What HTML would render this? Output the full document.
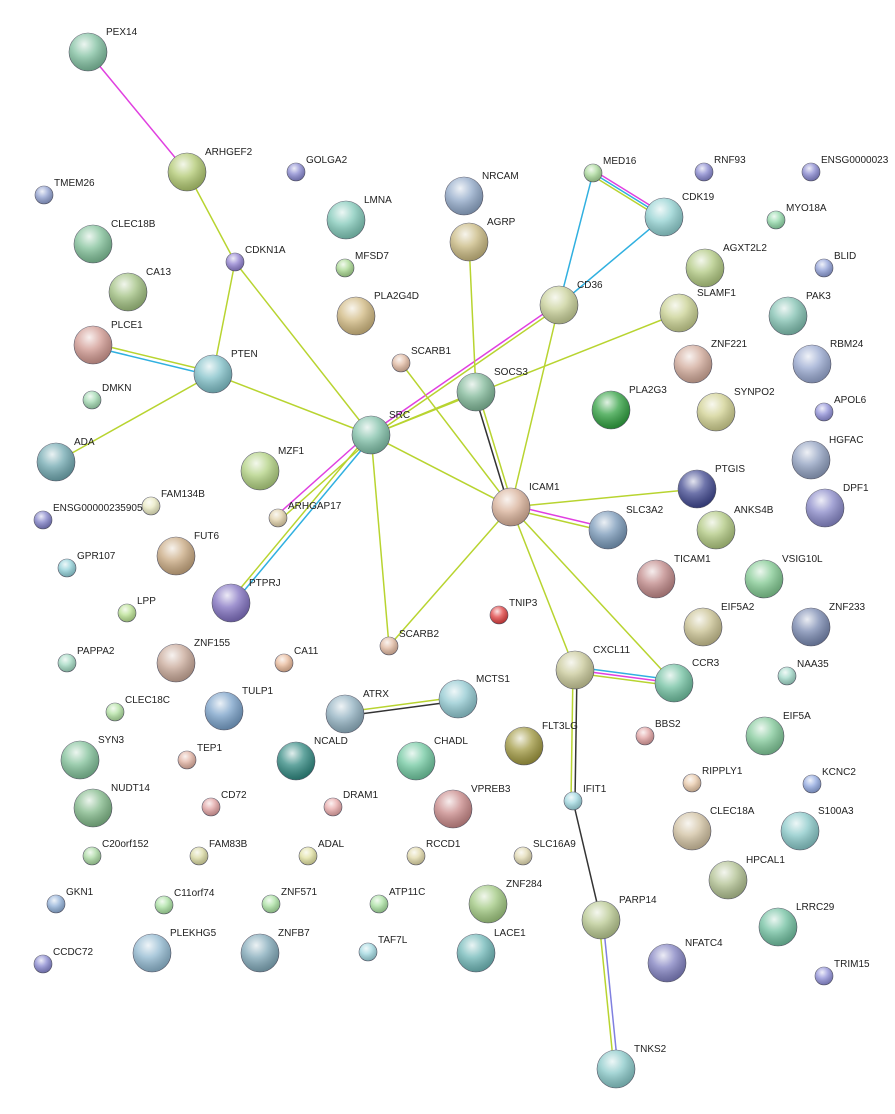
<!DOCTYPE html>
<html><head><meta charset="utf-8"><style>
html,body{margin:0;padding:0;background:#fff;}
svg{display:block;}
text{font-family:"Liberation Sans",sans-serif;font-size:10px;fill:#222;}
</style></head><body>
<svg width="895" height="1114" viewBox="0 0 895 1114" xmlns="http://www.w3.org/2000/svg">
<defs>
<radialGradient id="hl" cx="0.4" cy="0.3" r="0.7">
<stop offset="0" stop-color="#fff" stop-opacity="0.85"/>
<stop offset="0.45" stop-color="#fff" stop-opacity="0.25"/>
<stop offset="1" stop-color="#000" stop-opacity="0.2"/>
</radialGradient>
</defs>
<g stroke-width="1.5" fill="none">
<line x1="88" y1="52" x2="187" y2="172" stroke="#e040e0"/>
<line x1="187" y1="172" x2="235" y2="262" stroke="#b8d430"/>
<line x1="235" y1="262" x2="213" y2="374" stroke="#b8d430"/>
<line x1="235" y1="262" x2="371" y2="435" stroke="#b8d430"/>
<line x1="93" y1="343" x2="213" y2="372" stroke="#b8d430"/>
<line x1="93" y1="347" x2="213" y2="376" stroke="#30b0e0"/>
<line x1="213" y1="374" x2="371" y2="435" stroke="#b8d430"/>
<line x1="213" y1="374" x2="56" y2="462" stroke="#b8d430"/>
<line x1="371" y1="435" x2="476" y2="392" stroke="#b8d430"/>
<line x1="371" y1="433" x2="559" y2="303" stroke="#e040e0"/>
<line x1="371" y1="437" x2="559" y2="307" stroke="#b8d430"/>
<line x1="371" y1="435" x2="679" y2="313" stroke="#b8d430"/>
<line x1="371" y1="435" x2="511" y2="507" stroke="#b8d430"/>
<line x1="401" y1="363" x2="511" y2="507" stroke="#b8d430"/>
<line x1="371" y1="435" x2="389" y2="646" stroke="#b8d430"/>
<line x1="369" y1="433" x2="276" y2="516" stroke="#e040e0"/>
<line x1="373" y1="437" x2="280" y2="520" stroke="#b8d430"/>
<line x1="369" y1="434" x2="229" y2="602" stroke="#b8d430"/>
<line x1="373" y1="436" x2="233" y2="604" stroke="#30b0e0"/>
<line x1="474" y1="392" x2="509" y2="507" stroke="#333"/>
<line x1="478" y1="392" x2="513" y2="507" stroke="#b8d430"/>
<line x1="476" y1="392" x2="469" y2="242" stroke="#b8d430"/>
<line x1="559" y1="305" x2="511" y2="507" stroke="#b8d430"/>
<line x1="559" y1="305" x2="593" y2="173" stroke="#30b0e0"/>
<line x1="559" y1="305" x2="664" y2="217" stroke="#30b0e0"/>
<line x1="593" y1="170" x2="664" y2="214" stroke="#e040e0"/>
<line x1="593" y1="173" x2="664" y2="217" stroke="#30b0e0"/>
<line x1="593" y1="176" x2="664" y2="220" stroke="#b8d430"/>
<line x1="511" y1="507" x2="697" y2="489" stroke="#b8d430"/>
<line x1="511" y1="505" x2="608" y2="528" stroke="#e040e0"/>
<line x1="511" y1="509" x2="608" y2="532" stroke="#b8d430"/>
<line x1="511" y1="507" x2="389" y2="646" stroke="#b8d430"/>
<line x1="511" y1="507" x2="575" y2="670" stroke="#b8d430"/>
<line x1="511" y1="507" x2="674" y2="683" stroke="#b8d430"/>
<line x1="575" y1="667" x2="674" y2="680" stroke="#30b0e0"/>
<line x1="575" y1="670" x2="674" y2="683" stroke="#e040e0"/>
<line x1="575" y1="673" x2="674" y2="686" stroke="#b8d430"/>
<line x1="573" y1="670" x2="571" y2="801" stroke="#b8d430"/>
<line x1="577" y1="670" x2="575" y2="801" stroke="#333"/>
<line x1="573" y1="801" x2="601" y2="920" stroke="#333"/>
<line x1="599" y1="920" x2="614" y2="1069" stroke="#b8d430"/>
<line x1="603" y1="920" x2="618" y2="1069" stroke="#8080e0"/>
<line x1="345" y1="712" x2="458" y2="697" stroke="#b8d430"/>
<line x1="345" y1="716" x2="458" y2="701" stroke="#333"/>
</g>
<g stroke="#556" stroke-width="0.6">
<circle cx="88" cy="52" r="19" fill="#80c0a0"/>
<circle cx="187" cy="172" r="19" fill="#b0c870"/>
<circle cx="346" cy="220" r="19" fill="#80c8b8"/>
<circle cx="464" cy="196" r="19" fill="#90a8c8"/>
<circle cx="469" cy="242" r="19" fill="#c8b880"/>
<circle cx="664" cy="217" r="19" fill="#90d0d0"/>
<circle cx="93" cy="244" r="19" fill="#80c098"/>
<circle cx="128" cy="292" r="19" fill="#a0c080"/>
<circle cx="559" cy="305" r="19" fill="#c8d098"/>
<circle cx="679" cy="313" r="19" fill="#c8d090"/>
<circle cx="788" cy="316" r="19" fill="#80c0b0"/>
<circle cx="705" cy="268" r="19" fill="#b0c880"/>
<circle cx="93" cy="345" r="19" fill="#d09890"/>
<circle cx="213" cy="374" r="19" fill="#80c0c8"/>
<circle cx="356" cy="316" r="19" fill="#d0b880"/>
<circle cx="693" cy="364" r="19" fill="#d0a898"/>
<circle cx="812" cy="364" r="19" fill="#98a8d0"/>
<circle cx="476" cy="392" r="19" fill="#80b898"/>
<circle cx="371" cy="435" r="19" fill="#80c0a8"/>
<circle cx="611" cy="410" r="19" fill="#30a040"/>
<circle cx="716" cy="412" r="19" fill="#d0d090"/>
<circle cx="56" cy="462" r="19" fill="#70a8b0"/>
<circle cx="260" cy="471" r="19" fill="#b0d080"/>
<circle cx="811" cy="460" r="19" fill="#90a0c0"/>
<circle cx="697" cy="489" r="19" fill="#404890"/>
<circle cx="825" cy="508" r="19" fill="#8888c8"/>
<circle cx="511" cy="507" r="19" fill="#d8b098"/>
<circle cx="608" cy="530" r="19" fill="#7898b8"/>
<circle cx="716" cy="530" r="19" fill="#b0c880"/>
<circle cx="176" cy="556" r="19" fill="#c8a880"/>
<circle cx="656" cy="579" r="19" fill="#c08888"/>
<circle cx="764" cy="579" r="19" fill="#80c890"/>
<circle cx="231" cy="603" r="19" fill="#8070c0"/>
<circle cx="703" cy="627" r="19" fill="#c8c090"/>
<circle cx="811" cy="627" r="19" fill="#7888b0"/>
<circle cx="176" cy="663" r="19" fill="#c8a898"/>
<circle cx="575" cy="670" r="19" fill="#c8c898"/>
<circle cx="674" cy="683" r="19" fill="#70c0a0"/>
<circle cx="224" cy="711" r="19" fill="#78a0c8"/>
<circle cx="345" cy="714" r="19" fill="#90b0c0"/>
<circle cx="458" cy="699" r="19" fill="#90c8d0"/>
<circle cx="524" cy="746" r="19" fill="#a09840"/>
<circle cx="765" cy="736" r="19" fill="#80c898"/>
<circle cx="80" cy="760" r="19" fill="#80c098"/>
<circle cx="296" cy="761" r="19" fill="#308880"/>
<circle cx="416" cy="761" r="19" fill="#70c8a0"/>
<circle cx="453" cy="809" r="19" fill="#c88888"/>
<circle cx="93" cy="808" r="19" fill="#80b888"/>
<circle cx="692" cy="831" r="19" fill="#d0c0a0"/>
<circle cx="800" cy="831" r="19" fill="#88c8c8"/>
<circle cx="728" cy="880" r="19" fill="#b0c090"/>
<circle cx="488" cy="904" r="19" fill="#a0c880"/>
<circle cx="601" cy="920" r="19" fill="#b8c890"/>
<circle cx="778" cy="927" r="19" fill="#70c0a0"/>
<circle cx="152" cy="953" r="19" fill="#90b8d0"/>
<circle cx="260" cy="953" r="19" fill="#80a8b8"/>
<circle cx="476" cy="953" r="19" fill="#70b8b8"/>
<circle cx="667" cy="963" r="19" fill="#8080c0"/>
<circle cx="616" cy="1069" r="19" fill="#88c8c8"/>
<circle cx="296" cy="172" r="9" fill="#8888d0"/>
<circle cx="704" cy="172" r="9" fill="#8888d0"/>
<circle cx="811" cy="172" r="9" fill="#8888d0"/>
<circle cx="593" cy="173" r="9" fill="#a8d898"/>
<circle cx="44" cy="195" r="9" fill="#90a0d0"/>
<circle cx="776" cy="220" r="9" fill="#90d8a8"/>
<circle cx="235" cy="262" r="9" fill="#9080d0"/>
<circle cx="345" cy="268" r="9" fill="#a8d890"/>
<circle cx="824" cy="268" r="9" fill="#90a0d8"/>
<circle cx="401" cy="363" r="9" fill="#e0b8a0"/>
<circle cx="92" cy="400" r="9" fill="#a0d8b0"/>
<circle cx="824" cy="412" r="9" fill="#9090d8"/>
<circle cx="151" cy="506" r="9" fill="#e8e8c0"/>
<circle cx="43" cy="520" r="9" fill="#8080c8"/>
<circle cx="278" cy="518" r="9" fill="#e0d0a8"/>
<circle cx="67" cy="568" r="9" fill="#90d0d8"/>
<circle cx="499" cy="615" r="9" fill="#e04040"/>
<circle cx="127" cy="613" r="9" fill="#b8e090"/>
<circle cx="389" cy="646" r="9" fill="#e0b8a0"/>
<circle cx="67" cy="663" r="9" fill="#a0d8c0"/>
<circle cx="284" cy="663" r="9" fill="#e8b898"/>
<circle cx="787" cy="676" r="9" fill="#a0d8c8"/>
<circle cx="115" cy="712" r="9" fill="#b0e0a0"/>
<circle cx="645" cy="736" r="9" fill="#e0a0a0"/>
<circle cx="187" cy="760" r="9" fill="#e0b0a0"/>
<circle cx="692" cy="783" r="9" fill="#e8c8a8"/>
<circle cx="812" cy="784" r="9" fill="#90a8e0"/>
<circle cx="573" cy="801" r="9" fill="#a0d8e0"/>
<circle cx="211" cy="807" r="9" fill="#e0a0a0"/>
<circle cx="333" cy="807" r="9" fill="#e8a8a8"/>
<circle cx="92" cy="856" r="9" fill="#a8d8a0"/>
<circle cx="199" cy="856" r="9" fill="#d8d8a0"/>
<circle cx="308" cy="856" r="9" fill="#e0e0a0"/>
<circle cx="416" cy="856" r="9" fill="#e0d8a8"/>
<circle cx="523" cy="856" r="9" fill="#e0d8b0"/>
<circle cx="56" cy="904" r="9" fill="#90b0d8"/>
<circle cx="164" cy="905" r="9" fill="#a8e0a0"/>
<circle cx="271" cy="904" r="9" fill="#a8e0a0"/>
<circle cx="379" cy="904" r="9" fill="#a8e0a0"/>
<circle cx="368" cy="952" r="9" fill="#a0d8e0"/>
<circle cx="43" cy="964" r="9" fill="#8888d0"/>
<circle cx="824" cy="976" r="9" fill="#9090d8"/>
</g>
<g fill="url(#hl)">
<circle cx="88" cy="52" r="19"/><circle cx="187" cy="172" r="19"/><circle cx="346" cy="220" r="19"/><circle cx="464" cy="196" r="19"/><circle cx="469" cy="242" r="19"/><circle cx="664" cy="217" r="19"/><circle cx="93" cy="244" r="19"/><circle cx="128" cy="292" r="19"/><circle cx="559" cy="305" r="19"/><circle cx="679" cy="313" r="19"/><circle cx="788" cy="316" r="19"/><circle cx="705" cy="268" r="19"/><circle cx="93" cy="345" r="19"/><circle cx="213" cy="374" r="19"/><circle cx="356" cy="316" r="19"/><circle cx="693" cy="364" r="19"/><circle cx="812" cy="364" r="19"/><circle cx="476" cy="392" r="19"/><circle cx="371" cy="435" r="19"/><circle cx="611" cy="410" r="19"/><circle cx="716" cy="412" r="19"/><circle cx="56" cy="462" r="19"/><circle cx="260" cy="471" r="19"/><circle cx="811" cy="460" r="19"/><circle cx="697" cy="489" r="19"/><circle cx="825" cy="508" r="19"/><circle cx="511" cy="507" r="19"/><circle cx="608" cy="530" r="19"/><circle cx="716" cy="530" r="19"/><circle cx="176" cy="556" r="19"/><circle cx="656" cy="579" r="19"/><circle cx="764" cy="579" r="19"/><circle cx="231" cy="603" r="19"/><circle cx="703" cy="627" r="19"/><circle cx="811" cy="627" r="19"/><circle cx="176" cy="663" r="19"/><circle cx="575" cy="670" r="19"/><circle cx="674" cy="683" r="19"/><circle cx="224" cy="711" r="19"/><circle cx="345" cy="714" r="19"/><circle cx="458" cy="699" r="19"/><circle cx="524" cy="746" r="19"/><circle cx="765" cy="736" r="19"/><circle cx="80" cy="760" r="19"/><circle cx="296" cy="761" r="19"/><circle cx="416" cy="761" r="19"/><circle cx="453" cy="809" r="19"/><circle cx="93" cy="808" r="19"/><circle cx="692" cy="831" r="19"/><circle cx="800" cy="831" r="19"/><circle cx="728" cy="880" r="19"/><circle cx="488" cy="904" r="19"/><circle cx="601" cy="920" r="19"/><circle cx="778" cy="927" r="19"/><circle cx="152" cy="953" r="19"/><circle cx="260" cy="953" r="19"/><circle cx="476" cy="953" r="19"/><circle cx="667" cy="963" r="19"/><circle cx="616" cy="1069" r="19"/>
<circle cx="296" cy="172" r="9"/><circle cx="704" cy="172" r="9"/><circle cx="811" cy="172" r="9"/><circle cx="593" cy="173" r="9"/><circle cx="44" cy="195" r="9"/><circle cx="776" cy="220" r="9"/><circle cx="235" cy="262" r="9"/><circle cx="345" cy="268" r="9"/><circle cx="824" cy="268" r="9"/><circle cx="401" cy="363" r="9"/><circle cx="92" cy="400" r="9"/><circle cx="824" cy="412" r="9"/><circle cx="151" cy="506" r="9"/><circle cx="43" cy="520" r="9"/><circle cx="278" cy="518" r="9"/><circle cx="67" cy="568" r="9"/><circle cx="499" cy="615" r="9"/><circle cx="127" cy="613" r="9"/><circle cx="389" cy="646" r="9"/><circle cx="67" cy="663" r="9"/><circle cx="284" cy="663" r="9"/><circle cx="787" cy="676" r="9"/><circle cx="115" cy="712" r="9"/><circle cx="645" cy="736" r="9"/><circle cx="187" cy="760" r="9"/><circle cx="692" cy="783" r="9"/><circle cx="812" cy="784" r="9"/><circle cx="573" cy="801" r="9"/><circle cx="211" cy="807" r="9"/><circle cx="333" cy="807" r="9"/><circle cx="92" cy="856" r="9"/><circle cx="199" cy="856" r="9"/><circle cx="308" cy="856" r="9"/><circle cx="416" cy="856" r="9"/><circle cx="523" cy="856" r="9"/><circle cx="56" cy="904" r="9"/><circle cx="164" cy="905" r="9"/><circle cx="271" cy="904" r="9"/><circle cx="379" cy="904" r="9"/><circle cx="368" cy="952" r="9"/><circle cx="43" cy="964" r="9"/><circle cx="824" cy="976" r="9"/>
</g>
<g>
<text x="106" y="35">PEX14</text>
<text x="205" y="155">ARHGEF2</text>
<text x="364" y="203">LMNA</text>
<text x="482" y="179">NRCAM</text>
<text x="487" y="225">AGRP</text>
<text x="682" y="200">CDK19</text>
<text x="111" y="227">CLEC18B</text>
<text x="146" y="275">CA13</text>
<text x="577" y="288">CD36</text>
<text x="697" y="296">SLAMF1</text>
<text x="806" y="299">PAK3</text>
<text x="723" y="251">AGXT2L2</text>
<text x="111" y="328">PLCE1</text>
<text x="231" y="357">PTEN</text>
<text x="374" y="299">PLA2G4D</text>
<text x="711" y="347">ZNF221</text>
<text x="830" y="347">RBM24</text>
<text x="494" y="375">SOCS3</text>
<text x="389" y="418">SRC</text>
<text x="629" y="393">PLA2G3</text>
<text x="734" y="395">SYNPO2</text>
<text x="74" y="445">ADA</text>
<text x="278" y="454">MZF1</text>
<text x="829" y="443">HGFAC</text>
<text x="715" y="472">PTGIS</text>
<text x="843" y="491">DPF1</text>
<text x="529" y="490">ICAM1</text>
<text x="626" y="513">SLC3A2</text>
<text x="734" y="513">ANKS4B</text>
<text x="194" y="539">FUT6</text>
<text x="674" y="562">TICAM1</text>
<text x="782" y="562">VSIG10L</text>
<text x="249" y="586">PTPRJ</text>
<text x="721" y="610">EIF5A2</text>
<text x="829" y="610">ZNF233</text>
<text x="194" y="646">ZNF155</text>
<text x="593" y="653">CXCL11</text>
<text x="692" y="666">CCR3</text>
<text x="242" y="694">TULP1</text>
<text x="363" y="697">ATRX</text>
<text x="476" y="682">MCTS1</text>
<text x="542" y="729">FLT3LG</text>
<text x="783" y="719">EIF5A</text>
<text x="98" y="743">SYN3</text>
<text x="314" y="744">NCALD</text>
<text x="434" y="744">CHADL</text>
<text x="471" y="792">VPREB3</text>
<text x="111" y="791">NUDT14</text>
<text x="710" y="814">CLEC18A</text>
<text x="818" y="814">S100A3</text>
<text x="746" y="863">HPCAL1</text>
<text x="506" y="887">ZNF284</text>
<text x="619" y="903">PARP14</text>
<text x="796" y="910">LRRC29</text>
<text x="170" y="936">PLEKHG5</text>
<text x="278" y="936">ZNFB7</text>
<text x="494" y="936">LACE1</text>
<text x="685" y="946">NFATC4</text>
<text x="634" y="1052">TNKS2</text>
<text x="306" y="163">GOLGA2</text>
<text x="714" y="163">RNF93</text>
<text x="821" y="163">ENSG0000023</text>
<text x="603" y="164">MED16</text>
<text x="54" y="186">TMEM26</text>
<text x="786" y="211">MYO18A</text>
<text x="245" y="253">CDKN1A</text>
<text x="355" y="259">MFSD7</text>
<text x="834" y="259">BLID</text>
<text x="411" y="354">SCARB1</text>
<text x="102" y="391">DMKN</text>
<text x="834" y="403">APOL6</text>
<text x="161" y="497">FAM134B</text>
<text x="53" y="511">ENSG00000235905</text>
<text x="288" y="509">ARHGAP17</text>
<text x="77" y="559">GPR107</text>
<text x="509" y="606">TNIP3</text>
<text x="137" y="604">LPP</text>
<text x="399" y="637">SCARB2</text>
<text x="77" y="654">PAPPA2</text>
<text x="294" y="654">CA11</text>
<text x="797" y="667">NAA35</text>
<text x="125" y="703">CLEC18C</text>
<text x="655" y="727">BBS2</text>
<text x="197" y="751">TEP1</text>
<text x="702" y="774">RIPPLY1</text>
<text x="822" y="775">KCNC2</text>
<text x="583" y="792">IFIT1</text>
<text x="221" y="798">CD72</text>
<text x="343" y="798">DRAM1</text>
<text x="102" y="847">C20orf152</text>
<text x="209" y="847">FAM83B</text>
<text x="318" y="847">ADAL</text>
<text x="426" y="847">RCCD1</text>
<text x="533" y="847">SLC16A9</text>
<text x="66" y="895">GKN1</text>
<text x="174" y="896">C11orf74</text>
<text x="281" y="895">ZNF571</text>
<text x="389" y="895">ATP11C</text>
<text x="378" y="943">TAF7L</text>
<text x="53" y="955">CCDC72</text>
<text x="834" y="967">TRIM15</text>
</g>
</svg>
</body></html>
